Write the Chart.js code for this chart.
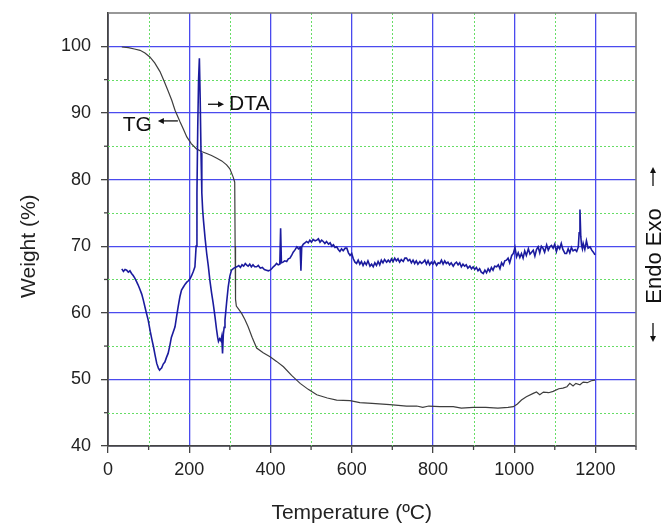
<!DOCTYPE html>
<html>
<head>
<meta charset="utf-8">
<title>TG / DTA</title>
<script src="https://cdn.jsdelivr.net/npm/chart.js@4"></script>
<style>
  html, body { margin: 0; padding: 0; background: #fff; }
  #wrap { width: 664px; height: 524px; }
</style>
</head>
<body>
<div id="wrap"><canvas id="tgChart" width="664" height="524"></canvas></div>
<script>
// Axis ranges and tick labels
const xRange = [0, 1300];
const xTickStep = 200;     // labelled ticks 0..1200
const xMinorStep = 100;
const xLabelled = [0, 1200];
const yRange = [40, 105];
const yTickStep = 10;      // labelled ticks 40..100
const yMinorStep = 5;
const yLabelled = [40, 100];
const xTitle = 'Temperature (ºC)';
const yTitle = 'Weight (%)';

// TG curve: [temperature (ºC), weight (%)]
const tgTemp = [34, 50, 65, 79, 91, 103, 115, 128, 138, 148, 157, 165, 177, 186, 194, 205, 218, 230, 243, 255,
  268, 280, 292, 300, 308, 312, 313, 314, 316, 322, 329, 337, 345, 355, 366, 382, 399, 415, 432, 452,
  473, 493, 514, 540, 563, 596, 620, 650, 694, 735, 760, 775, 790, 817, 850, 870, 899, 930, 960, 985,
  998, 1008, 1018, 1030, 1047, 1055, 1063, 1072, 1085, 1096, 1110, 1120, 1130, 1137, 1145, 1152, 1162, 1170, 1180, 1190, 1199];
const tgWeight = [99.9, 99.8, 99.6, 99.4, 99.0, 98.4, 97.5, 96.2, 94.8, 93.3, 91.9, 90.4, 88.7, 87.5, 86.4, 85.4, 84.6, 84.2, 83.9, 83.6,
  83.2, 82.8, 82.2, 81.6, 80.4, 79.6, 70.0, 62.0, 61.0, 60.5, 59.9, 59.0, 57.9, 56.3, 54.7, 54.0, 53.4, 52.7, 51.9, 50.6,
  49.4, 48.5, 47.7, 47.2, 46.9, 46.8, 46.5, 46.4, 46.2, 46.0, 46.0, 45.8, 46.0, 45.9, 45.9, 45.7, 45.8, 45.8, 45.7, 45.8,
  45.9, 46.3, 46.9, 47.4, 47.9, 48.1, 47.7, 48.1, 48.0, 48.2, 48.6, 48.7, 48.9, 49.4, 49.0, 49.4, 49.2, 49.6, 49.5, 49.8, 49.9];

// DTA curve: [temperature (ºC), signal drawn on the weight scale]
const dtaTemp = [34, 38, 42, 46, 50, 54, 58, 62, 66, 70, 74, 78, 83, 87, 92, 96, 99, 104, 108, 112,
  116, 120, 124, 127, 130, 132, 136, 140, 144, 148, 152, 156, 160, 165, 169, 173, 177, 181, 186, 190,
  194, 198, 202, 206, 210, 214, 217, 219, 221, 223, 225, 227, 229, 231, 233, 235, 239, 243, 247, 251,
  255, 259, 263, 267, 270, 272, 275, 278, 280, 282, 284, 286, 288, 292, 296, 300, 304, 310, 317, 322,
  326, 330, 334, 338, 341, 345, 349, 353, 357, 361, 366, 370, 375, 380, 385, 390, 395, 399, 403, 407,
  411, 415, 419, 423, 425, 427, 431, 435, 440, 444, 448, 452, 456, 460, 465, 469, 473, 475, 477, 481,
  485, 489, 493, 497, 501, 505, 510, 514, 518, 522, 526, 530, 534, 538, 543, 547, 551, 555, 559, 563,
  567, 571, 575, 579, 584, 588, 592, 596, 600, 604, 608, 612, 616, 620, 624, 628, 632, 636, 640, 645,
  649, 653, 657, 661, 665, 669, 673, 677, 681, 686, 690, 694, 698, 702, 706, 710, 714, 718, 722, 727,
  731, 735, 739, 743, 747, 751, 755, 759, 763, 768, 772, 776, 780, 784, 788, 792, 796, 800, 804, 809,
  813, 817, 821, 825, 829, 833, 837, 841, 845, 850, 854, 858, 862, 866, 870, 874, 878, 882, 886, 891,
  895, 899, 903, 907, 911, 915, 919, 924, 928, 932, 936, 940, 944, 948, 952, 957, 961, 965, 969, 973,
  977, 981, 985, 989, 994, 998, 1002, 1006, 1010, 1014, 1018, 1022, 1026, 1030, 1035, 1039, 1043, 1047, 1051, 1055,
  1059, 1063, 1067, 1071, 1075, 1080, 1084, 1088, 1092, 1096, 1100, 1104, 1108, 1112, 1116, 1120, 1125, 1129, 1133, 1137,
  1141, 1145, 1150, 1154, 1158, 1160, 1162, 1164, 1166, 1168, 1170, 1174, 1178, 1182, 1187, 1191, 1195, 1199];
const dtaSignal = [66.6, 66.2, 66.5, 66.4, 66.1, 66.3, 65.9, 65.6, 65.2, 64.7, 64.2, 63.6, 62.8, 61.9, 60.6, 59.6, 58.9, 57.2, 56.0, 54.9,
  53.6, 52.4, 51.7, 51.4, 51.6, 51.7, 52.3, 52.6, 53.3, 53.9, 55.0, 56.3, 57.0, 57.9, 59.5, 61.0, 62.4, 63.4, 63.9, 64.3,
  64.6, 64.8, 65.1, 65.6, 66.2, 66.9, 70.0, 78.0, 88.0, 95.0, 98.2, 92.0, 84.0, 78.0, 75.5, 73.9, 71.2, 68.9, 67.0, 64.8,
  63.0, 61.4, 59.6, 57.6, 56.3, 55.7, 56.1, 55.8, 56.4, 53.9, 56.8, 57.8, 58.9, 61.5, 63.9, 65.5, 66.4, 66.7, 66.9, 67.1,
  66.8, 67.2, 67.0, 67.4, 67.2, 67.0, 67.3, 66.9, 67.2, 66.9, 66.9, 67.1, 66.7, 66.8, 66.5, 66.4, 66.3, 66.4, 66.6, 66.9,
  67.1, 67.4, 67.2, 67.3, 72.7, 67.5, 67.6, 67.8, 67.7, 68.1, 68.2, 68.6, 69.1, 69.4, 69.9, 69.6, 69.8, 66.3, 69.9, 70.3,
  70.5, 70.7, 70.5, 70.9, 70.6, 71.0, 70.8, 70.9, 71.1, 70.6, 70.9, 70.7, 70.4, 70.7, 70.3, 70.5, 70.0, 70.2, 69.8, 69.9,
  69.5, 69.2, 69.6, 69.3, 69.7, 69.7, 69.0, 68.6, 68.9, 68.1, 67.6, 67.4, 67.9, 67.3, 67.7, 67.1, 67.6, 67.2, 67.8, 67.0,
  67.3, 66.9, 67.5, 67.1, 67.7, 67.2, 67.9, 67.5, 68.0, 67.6, 67.9, 67.6, 68.1, 67.7, 68.2, 67.8, 68.1, 67.6, 68.0, 67.7,
  68.2, 68.2, 67.8, 68.0, 67.5, 67.9, 67.4, 67.8, 67.3, 67.7, 67.4, 67.6, 67.9, 67.3, 67.8, 67.2, 67.6, 67.3, 67.7, 67.1,
  67.5, 67.4, 67.9, 67.3, 67.8, 67.4, 67.6, 67.2, 67.5, 67.0, 67.4, 67.6, 67.2, 67.5, 66.9, 67.3, 67.0, 67.2, 66.7, 67.0,
  66.6, 66.9, 66.5, 66.8, 66.3, 66.6, 66.1, 65.9, 66.4, 66.0, 66.6, 66.2, 66.8, 66.4, 67.0, 66.9, 67.2, 66.6, 67.5, 67.1,
  67.8, 67.9, 68.2, 67.5, 68.6, 68.9, 69.8, 68.4, 69.0, 68.3, 68.9, 68.2, 69.3, 68.6, 69.6, 68.8, 69.1, 69.4, 68.5, 69.5,
  69.9, 69.0, 70.0, 69.7, 69.1, 70.2, 69.4, 69.9, 70.1, 69.7, 70.3, 69.2, 70.0, 69.6, 70.4, 69.5, 68.9, 68.9, 69.6, 69.0,
  69.8, 69.3, 69.5, 69.2, 69.9, 72.0, 75.5, 71.5, 70.1, 69.6, 70.4, 69.5, 70.8, 69.7, 69.9, 69.4, 69.1, 68.7];

// Curve labels: [label, x, y] in data units
const tgLabel = ['TG', 108, 88.2];
const dtaLabel = ['DTA', 298, 91.3];

const FONT = "'Liberation Sans', Arial, Helvetica, sans-serif";
const TEXT = '#222222';
const MAJOR_GRID = '#4a4aee';
const MINOR_GRID = '#66dd66';
const AXIS = '#444444';

function toPoints(xs, ys) {
  return xs.map((x, i) => ({ x: x, y: ys[i] }));
}

// Draw a thin arrow with a small filled head at (x2, y2)
function drawArrow(ctx, x1, y1, x2, y2) {
  const ang = Math.atan2(y2 - y1, x2 - x1);
  const head = 6;
  ctx.save();
  ctx.strokeStyle = '#111';
  ctx.fillStyle = '#111';
  ctx.lineWidth = 1.3;
  ctx.beginPath();
  ctx.moveTo(x1, y1);
  ctx.lineTo(x2 - Math.cos(ang) * head * 0.8, y2 - Math.sin(ang) * head * 0.8);
  ctx.stroke();
  ctx.beginPath();
  ctx.moveTo(x2, y2);
  ctx.lineTo(x2 - head * Math.cos(ang) + 3 * Math.sin(ang), y2 - head * Math.sin(ang) - 3 * Math.cos(ang));
  ctx.lineTo(x2 - head * Math.cos(ang) - 3 * Math.sin(ang), y2 - head * Math.sin(ang) + 3 * Math.cos(ang));
  ctx.closePath();
  ctx.fill();
  ctx.restore();
}

// Dotted minor grid, minor tick marks and the top/right frame
const minorGridPlugin = {
  id: 'minorGrid',
  beforeDatasetsDraw(chart) {
    const { ctx, chartArea: a, scales } = chart;
    const xs = scales.x, ys = scales.y;
    ctx.save();
    ctx.strokeStyle = MINOR_GRID;
    ctx.lineWidth = 1;
    ctx.setLineDash([2, 2]);
    for (let v = xRange[0] + xMinorStep; v < xRange[1]; v += xTickStep) {
      const px = Math.round(xs.getPixelForValue(v)) + 0.5;
      ctx.beginPath(); ctx.moveTo(px, a.top); ctx.lineTo(px, a.bottom); ctx.stroke();
    }
    for (let v = yRange[0] + yMinorStep; v < yRange[1]; v += yTickStep) {
      const py = Math.round(ys.getPixelForValue(v)) + 0.5;
      ctx.beginPath(); ctx.moveTo(a.left, py); ctx.lineTo(a.right, py); ctx.stroke();
    }
    ctx.setLineDash([]);

    // minor ticks
    ctx.strokeStyle = AXIS;
    ctx.lineWidth = 1.3;
    for (let v = xRange[0] + xMinorStep; v <= xRange[1]; v += xTickStep) {
      const px = xs.getPixelForValue(v);
      ctx.beginPath(); ctx.moveTo(px, a.bottom); ctx.lineTo(px, a.bottom + 4); ctx.stroke();
    }
    for (let v = yRange[0] + yMinorStep; v < yRange[1]; v += yTickStep) {
      const py = ys.getPixelForValue(v);
      ctx.beginPath(); ctx.moveTo(a.left, py); ctx.lineTo(a.left - 4, py); ctx.stroke();
    }

    // top and right frame
    ctx.strokeStyle = '#777777';
    ctx.lineWidth = 1.6;
    ctx.beginPath();
    ctx.moveTo(a.left, a.top);
    ctx.lineTo(a.right, a.top);
    ctx.lineTo(a.right, a.bottom);
    ctx.stroke();
    ctx.restore();
  }
};

// Axis titles (centred over the labelled range), TG / DTA labels, Endo / Exo side label
const labelPlugin = {
  id: 'curveLabels',
  afterDatasetsDraw(chart) {
    const { ctx, chartArea: a, scales } = chart;
    const xs = scales.x, ys = scales.y;
    ctx.save();

    // axis titles
    ctx.fillStyle = TEXT;
    ctx.font = '21px ' + FONT;
    ctx.textAlign = 'center';
    ctx.textBaseline = 'alphabetic';
    const xMid = (xs.getPixelForValue(xLabelled[0]) + xs.getPixelForValue(xLabelled[1])) / 2;
    ctx.fillText(xTitle, xMid, 519);
    const yMid = (ys.getPixelForValue(yLabelled[0]) + ys.getPixelForValue(yLabelled[1])) / 2;
    ctx.save();
    ctx.translate(35, yMid);
    ctx.rotate(-Math.PI / 2);
    ctx.fillText(yTitle, 0, 0);
    ctx.restore();

    ctx.fillStyle = '#111';
    ctx.font = '21px ' + FONT;
    ctx.textBaseline = 'middle';

    // TG with arrow pointing left
    const tgX = xs.getPixelForValue(tgLabel[1]);
    const tgY = ys.getPixelForValue(tgLabel[2]);
    ctx.textAlign = 'right';
    ctx.fillText(tgLabel[0], tgX, tgY);
    drawArrow(ctx, tgX + 26, tgY - 4, tgX + 6, tgY - 4);

    // DTA with arrow pointing right
    const dX = xs.getPixelForValue(dtaLabel[1]);
    const dY = ys.getPixelForValue(dtaLabel[2]);
    ctx.textAlign = 'left';
    ctx.fillText(dtaLabel[0], dX, dY);
    drawArrow(ctx, dX - 21, dY, dX - 5, dY);

    // Right side label, rotated
    const cx = a.right + 19;
    const cy = 256;
    ctx.save();
    ctx.translate(cx, cy);
    ctx.rotate(-Math.PI / 2);
    ctx.textAlign = 'center';
    ctx.font = '22px ' + FONT;
    ctx.fillText('Endo Exo', 0, 0);
    ctx.restore();
    drawArrow(ctx, cx - 2, 186, cx - 2, 167);
    drawArrow(ctx, cx - 2, 323, cx - 2, 342);
    ctx.restore();
  }
};

const ctx = document.getElementById('tgChart').getContext('2d');
const chart = new Chart(ctx, {
  type: 'scatter',
  data: {
    datasets: [
      {
        label: 'DTA',
        data: toPoints(dtaTemp, dtaSignal),
        showLine: true,
        borderColor: '#1b1b9e',
        borderWidth: 1.6,
        pointRadius: 0,
        tension: 0
      },
      {
        label: 'TG',
        data: toPoints(tgTemp, tgWeight),
        showLine: true,
        borderColor: '#3e3e3e',
        borderWidth: 1.2,
        pointRadius: 0,
        tension: 0
      }
    ]
  },
  options: {
    responsive: false,
    animation: false,
    devicePixelRatio: 1,
    layout: { padding: { top: 13, right: 28, left: 0, bottom: 0 } },
    plugins: {
      legend: { display: false },
      tooltip: { enabled: false }
    },
    scales: {
      x: {
        type: 'linear',
        min: xRange[0],
        max: xRange[1],
        afterFit(scale) {
          scale.height = 78;
          scale.paddingLeft = 0;
          scale.paddingRight = 0;
        },
        ticks: {
          stepSize: xTickStep,
          includeBounds: false,
          color: TEXT,
          font: { family: FONT, size: 18 },
          padding: 6,
          maxRotation: 0,
          callback: (v) => String(v)
        },
        grid: { color: MAJOR_GRID, lineWidth: 1.3, tickColor: AXIS, tickLength: 7, tickWidth: 1.3 },
        border: { color: AXIS, width: 1.8 },
        title: { display: false }
      },
      y: {
        type: 'linear',
        min: yRange[0],
        max: yRange[1],
        afterFit(scale) {
          scale.width = 108;
          scale.paddingTop = 0;
          scale.paddingBottom = 0;
        },
        ticks: {
          stepSize: yTickStep,
          includeBounds: false,
          color: TEXT,
          font: { family: FONT, size: 18 },
          padding: 10,
          callback: (v) => String(v)
        },
        grid: { color: MAJOR_GRID, lineWidth: 1.3, tickColor: AXIS, tickLength: 7, tickWidth: 1.3 },
        border: { color: AXIS, width: 1.8 },
        title: { display: false }
      }
    }
  },
  plugins: [minorGridPlugin, labelPlugin]
});
</script>
</body>
</html>
